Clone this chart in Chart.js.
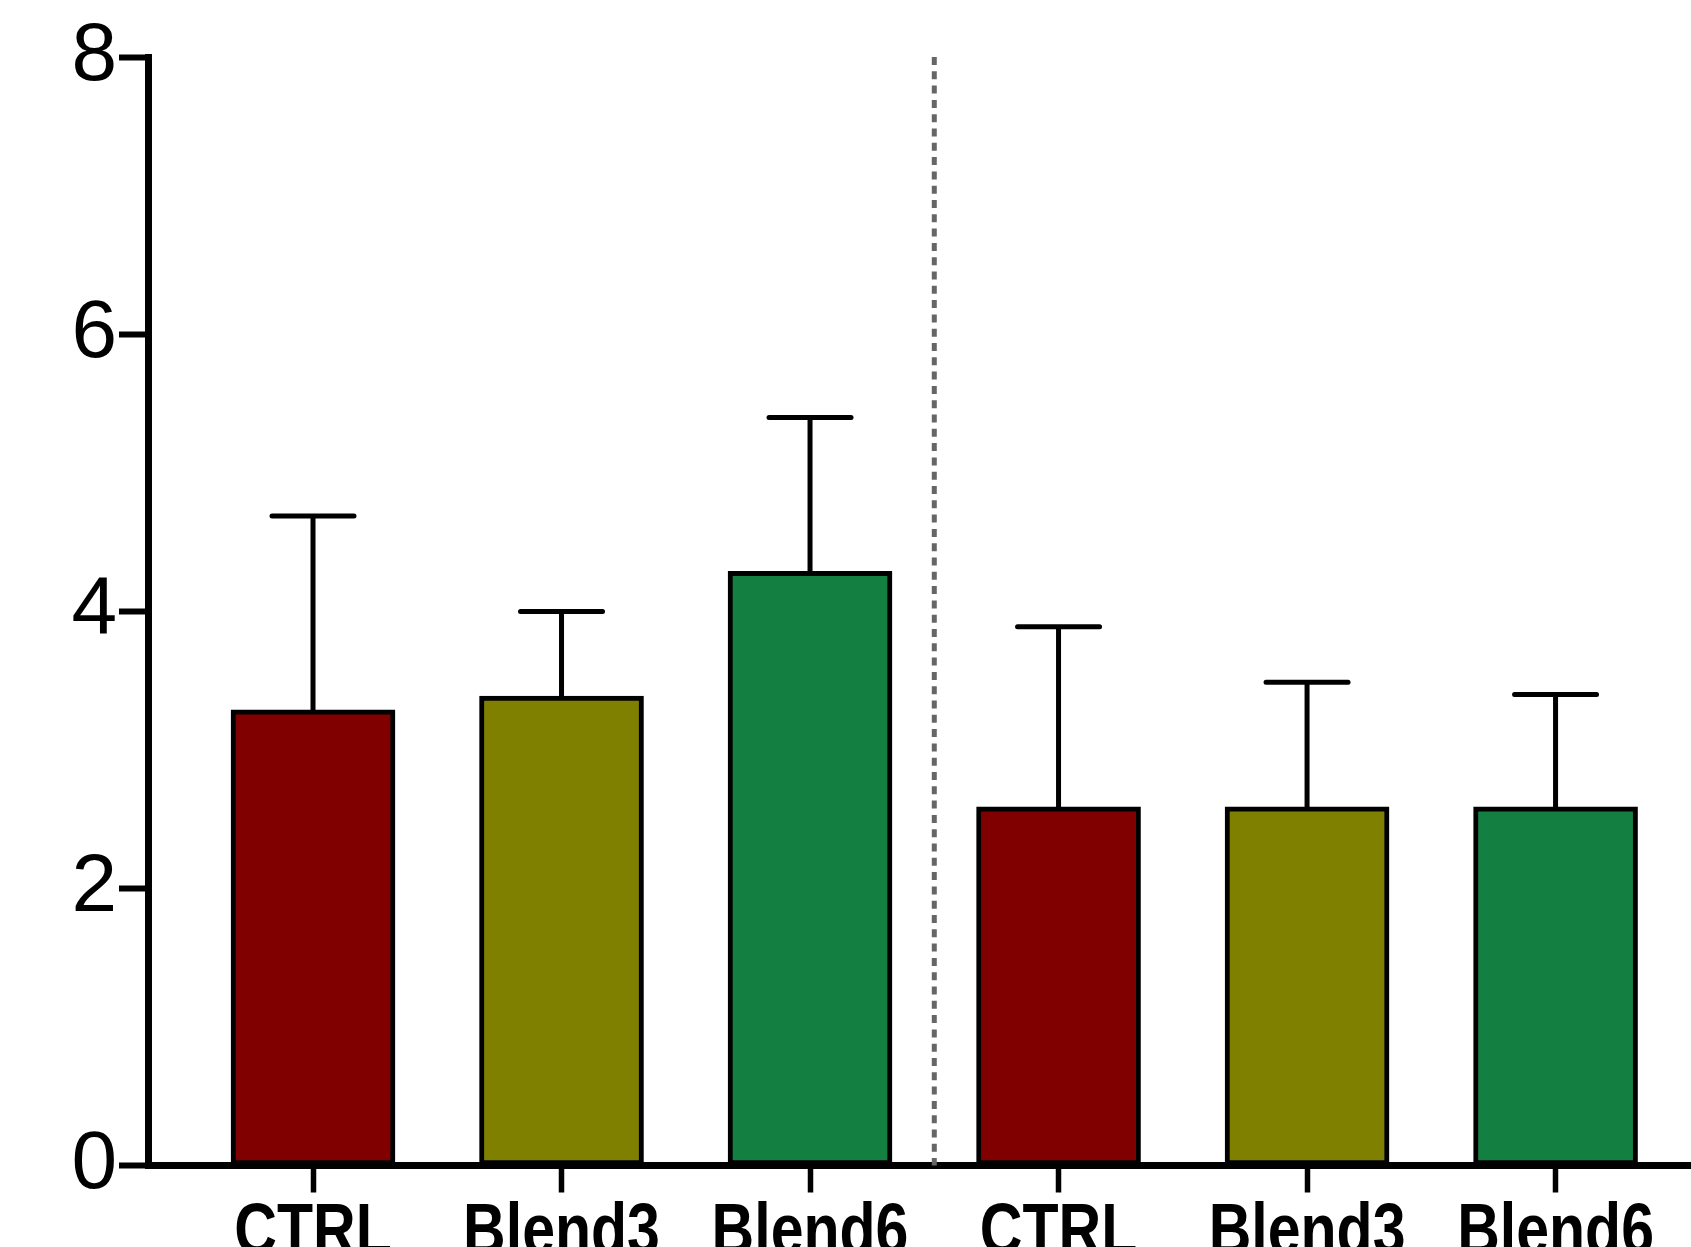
<!DOCTYPE html>
<html>
<head>
<meta charset="utf-8">
<script src="https://cdn.jsdelivr.net/npm/chart.js@4/dist/chart.umd.min.js"></script>
<style>
  html, body { margin: 0; padding: 0; background: #fff; overflow: hidden; }
  canvas { display: block; }
</style>
</head>
<body>
<canvas id="chart" width="1691" height="1247"></canvas>
<script>
// Data
const groups = ["CTRL", "Blend3", "Blend6", "CTRL", "Blend3", "Blend6"];
const means = [3.29, 3.39, 4.29, 2.59, 2.59, 2.59];
const sd = [1.40, 0.61, 1.11, 1.30, 0.90, 0.81];
const barColors = ["#800000", "#808000", "#138042", "#800000", "#808000", "#138042"];
const yTicks = [0, 2, 4, 6, 8];

// error bars on top of each bar
const errorBars = {
  id: "errorBars",
  afterDatasetsDraw(chart) {
    const ctx = chart.ctx;
    const xs = chart.scales.x;
    const ys = chart.scales.y;
    ctx.save();
    ctx.strokeStyle = "#000";
    ctx.lineWidth = 5;
    ctx.lineCap = "round";
    for (let i = 0; i < means.length; i++) {
      let x = xs.getPixelForValue(i);
      let y0 = ys.getPixelForValue(means[i]);
      let y1 = ys.getPixelForValue(means[i] + sd[i]);
      ctx.beginPath();
      ctx.moveTo(x, y0);
      ctx.lineTo(x, y1);
      ctx.moveTo(x - 41, y1);
      ctx.lineTo(x + 41, y1);
      ctx.stroke();
    }
    ctx.restore();
  }
};

// dotted separator between the two groups
const separator = {
  id: "separator",
  afterDatasetsDraw(chart) {
    const ctx = chart.ctx;
    const x = chart.scales.x.getPixelForValue(2.5);
    ctx.save();
    ctx.strokeStyle = "#666666";
    ctx.lineWidth = 5;
    ctx.setLineDash([8, 6.3]);
    ctx.beginPath();
    ctx.moveTo(x, chart.scales.y.getPixelForValue(8) - 0.5);
    ctx.lineTo(x, chart.scales.y.getPixelForValue(0));
    ctx.stroke();
    ctx.restore();
  }
};

// condensed bold category labels (no narrow font installed, so squeeze it)
const groupLabels = {
  id: "groupLabels",
  afterDraw(chart) {
    const ctx = chart.ctx;
    const xs = chart.scales.x;
    ctx.save();
    ctx.fillStyle = "#000";
    ctx.font = "bold 72px 'Liberation Sans', Arial, sans-serif";
    ctx.textAlign = "center";
    ctx.textBaseline = "alphabetic";
    for (let i = 0; i < groups.length; i++) {
      ctx.save();
      ctx.translate(xs.getPixelForValue(i), 1254);
      ctx.scale(0.82, 1);
      ctx.fillText(groups[i], 0, 0);
      ctx.restore();
    }
    ctx.restore();
  }
};

new Chart(document.getElementById("chart"), {
  type: "bar",
  data: {
    datasets: [{
      data: means.map((m, i) => ({ x: i, y: m })),
      backgroundColor: barColors,
      borderColor: "#000",
      borderWidth: 5,
      borderSkipped: false,
      barThickness: 164
    }]
  },
  options: {
    responsive: false,
    animation: false,
    layout: { padding: { top: 57.5, left: 0, right: 0, bottom: 0 } },
    plugins: { legend: { display: false }, tooltip: { enabled: false } },
    scales: {
      x: {
        type: "linear",
        offset: false,
        min: -0.664,
        max: 5.545,
        afterBuildTicks: (axis) => { axis.ticks = groups.map((g, i) => ({ value: i })); },
        afterFit: (axis) => { axis.height = 81.5; },
        border: { display: true, color: "#000", width: 7 },
        grid: { offset: false, drawOnChartArea: false, drawTicks: true, tickLength: 27, tickWidth: 5.5, tickColor: "#000" },
        ticks: { display: false }
      },
      y: {
        min: 0,
        max: 8,
        afterBuildTicks: (axis) => { axis.ticks = yTicks.map((v) => ({ value: v })); },
        afterFit: (axis) => { axis.width = 148; },
        border: { display: true, color: "#000", width: 7 },
        grid: { drawOnChartArea: false, drawTicks: true, tickLength: 29, tickWidth: 6, tickColor: "#000" },
        ticks: {
          padding: 2,
          color: "#000",
          font: { family: "'Liberation Sans', Arial, sans-serif", size: 82 }
        }
      }
    }
  },
  plugins: [separator, errorBars, groupLabels]
});
</script>
</body>
</html>
